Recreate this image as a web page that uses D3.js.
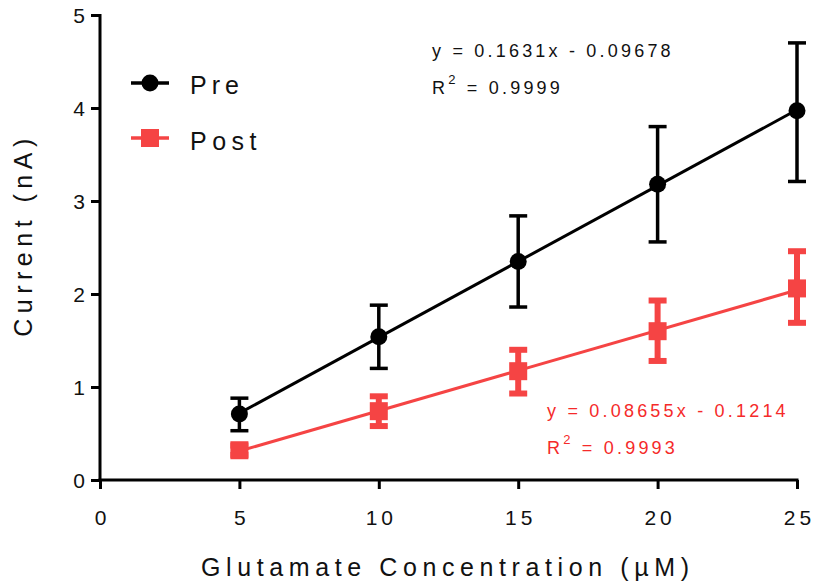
<!DOCTYPE html>
<html><head><meta charset="utf-8">
<script src="https://cdn.jsdelivr.net/npm/d3@7"></script>
<style>body{margin:0;background:#fff}svg{display:block;font-family:"Liberation Sans",Arial,sans-serif}</style>
</head><body><svg id="c" width="817" height="585"></svg>
<script>
const conc = [5, 10, 15, 20, 25];
const preMean = [0.71, 1.54, 2.35, 3.18, 3.97];
const preLow  = [0.53, 1.20, 1.86, 2.56, 3.21];
const preHigh = [0.88, 1.88, 2.84, 3.80, 4.70];
const postMean = [0.32, 0.74, 1.17, 1.60, 2.06];
const postLow  = [0.27, 0.58, 0.93, 1.28, 1.69];
const postHigh = [0.37, 0.90, 1.40, 1.93, 2.46];
const preFit = {slope: 0.1631, intercept: -0.09678};
const postFit = {slope: 0.08655, intercept: -0.1214};
const preR2 = "0.9999", postR2 = "0.9993";
const xTicks = [0, 5, 10, 15, 20, 25];
const yTicks = [0, 1, 2, 3, 4, 5];

const svg = d3.select("#c");
const x = d3.scaleLinear().domain([0, 25]).range([100, 797]);
const y = d3.scaleLinear().domain([0, 5]).range([480, 15]);
const RED = "#f54444", TRED = "#f52a2a";

// axes
const xa = svg.append("g").attr("transform", "translate(0,480)")
  .call(d3.axisBottom(x).tickValues(xTicks).tickSize(9).tickSizeOuter(0).tickFormat(d => d));
const ya = svg.append("g").attr("transform", "translate(100,0)")
  .call(d3.axisLeft(y).tickValues(yTicks).tickSize(9).tickSizeOuter(0).tickFormat(d => d));
[xa, ya].forEach(a => {
  a.select(".domain").attr("stroke", "#000").attr("stroke-width", 3);
  a.selectAll(".tick line").attr("stroke", "#000").attr("stroke-width", 3);
  a.selectAll(".tick text").attr("fill", "#111").attr("font-size", 21)
    .attr("font-family", "Liberation Sans, Arial, sans-serif");
});
xa.select(".domain").attr("d", "M98.5,0H798.5");
ya.select(".domain").attr("d", "M0,14V481.5");
xa.selectAll(".tick text").attr("y", 30).attr("letter-spacing", "4px").attr("dx", "2px");
ya.selectAll(".tick text").attr("x", -15).attr("dy", "0.36em");

// titles
svg.append("text").attr("x", 201).attr("y", 576).attr("text-anchor", "start")
  .attr("font-size", 25).attr("letter-spacing", "5.6px").attr("fill", "#111")
  .text("Glutamate Concentration (µM)");
svg.append("text").attr("transform", "translate(32,235) rotate(-90)").attr("text-anchor", "middle")
  .attr("font-size", 25).attr("letter-spacing", "5.5px").attr("fill", "#111")
  .text("Current (nA)");

// fit lines
function fitLine(fit, color) {
  const line = d3.line().x(d => x(d)).y(d => y(fit.slope * d + fit.intercept));
  svg.append("path").attr("d", line([conc[0], conc[conc.length - 1]]))
    .attr("stroke", color).attr("stroke-width", 3).attr("fill", "none");
}
fitLine(postFit, RED);
fitLine(preFit, "#000");

// error bars
function errBars(low, high, color, w, capW) {
  const g = svg.append("g").attr("stroke", color);
  conc.forEach((c, i) => {
    g.append("line").attr("x1", x(c)).attr("x2", x(c)).attr("y1", y(low[i])).attr("y2", y(high[i])).attr("stroke-width", w);
    [low[i], high[i]].forEach(v => g.append("line").attr("x1", x(c) - 9).attr("x2", x(c) + 9)
      .attr("y1", y(v)).attr("y2", y(v)).attr("stroke-width", capW));
  });
}
errBars(postLow, postHigh, RED, 6, 6);
errBars(preLow, preHigh, "#000", 3.5, 3.5);

// markers
svg.append("g").selectAll("rect").data(conc).join("rect")
  .attr("x", d => x(d) - 9).attr("y", (d, i) => y(postMean[i]) - 9)
  .attr("width", 18).attr("height", 18).attr("fill", RED);
svg.append("g").selectAll("circle").data(conc).join("circle")
  .attr("cx", d => x(d)).attr("cy", (d, i) => y(preMean[i])).attr("r", 8.5).attr("fill", "#000");

// legend
const leg = svg.append("g");
leg.append("line").attr("x1", 131).attr("x2", 169).attr("y1", 83).attr("y2", 83).attr("stroke", "#000").attr("stroke-width", 3.5);
leg.append("circle").attr("cx", 150).attr("cy", 83).attr("r", 8.5).attr("fill", "#000");
leg.append("line").attr("x1", 131).attr("x2", 169).attr("y1", 138).attr("y2", 138).attr("stroke", RED).attr("stroke-width", 3.5);
leg.append("rect").attr("x", 141).attr("y", 129).attr("width", 18).attr("height", 18).attr("fill", RED);
leg.append("text").attr("x", 190).attr("y", 94).attr("font-size", 25).attr("letter-spacing", "5px").attr("fill", "#111").text("Pre");
leg.append("text").attr("x", 190).attr("y", 150).attr("font-size", 25).attr("letter-spacing", "5.5px").attr("fill", "#111").text("Post");

// equations
function eq(xp, yp, fit, r2, color) {
  const t1 = `y = ${fit.slope}x - ${Math.abs(fit.intercept)}`;
  svg.append("text").attr("x", xp).attr("y", yp).attr("font-size", 18).attr("letter-spacing", "3.2px")
    .attr("fill", color).text(t1);
  const t = svg.append("text").attr("x", xp).attr("y", yp + 37).attr("font-size", 18).attr("letter-spacing", "3.2px").attr("fill", color);
  t.append("tspan").text("R");
  t.append("tspan").attr("dy", -10).attr("font-size", 13).text("2");
  t.append("tspan").attr("dy", 10).text(` = ${r2}`);
}
eq(432, 57, preFit, preR2, "#111");
eq(547, 417, postFit, postR2, TRED);
</script></body></html>
